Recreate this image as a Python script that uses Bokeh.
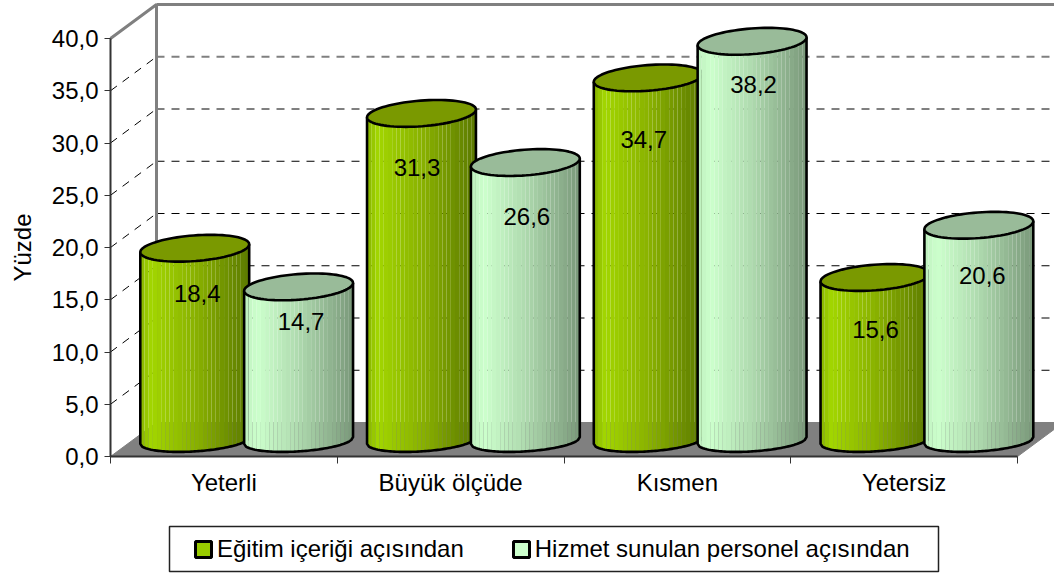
import math
from bokeh.embed import file_html
from bokeh.resources import INLINE
from bokeh.plotting import figure
from bokeh.models import (FixedTicker, Legend, LegendItem, BoxAnnotation, Label, ColumnDataSource)
from bokeh.core.properties import value

categories = ["Yeterli", "Büyük ölçüde", "Kısmen", "Yetersiz"]
egitim = [18.4, 31.3, 34.7, 15.6]
hizmet = [14.7, 26.6, 38.2, 20.6]
egitim_labels = ["18,4", "31,3", "34,7", "15,6"]
hizmet_labels = ["14,7", "26,6", "38,2", "20,6"]
y_ticks = [0, 5, 10, 15, 20, 25, 30, 35, 40]
y_tick_labels = ["0,0", "5,0", "10,0", "15,0", "20,0", "25,0", "30,0", "35,0", "40,0"]
series_names = ["Eğitim içeriği açısından", "Hizmet sunulan personel açısından"]

# layout (pixels of the picture)
W, H = 1054, 575
LEFT, BASE = 110, 456
PX_X, PX_Y = 226.75, 10.45
FS = "24px"
FONT = value("Liberation Sans")
DEPTH_X, DEPTH_Y = 46 / PX_X, 34 / PX_Y
BAR_LIFT = 16 / PX_Y
BAR_POS = [0.3715, 0.8295]
A, B, TILT = 54.6, 12.8, math.radians(4.4)
BASE_SQUASH = 0.85
HALF = math.sqrt((A * math.cos(TILT)) ** 2 + (B * math.sin(TILT)) ** 2)
PHI = math.atan2(B * math.sin(TILT), A * math.cos(TILT))
LABEL_DOWN = [[45, 54, 62, 52], [35, 54, 43, 50]]
LABEL_DX = [[2.5, -4.5, -4.5, 0.5], [2.5, 1.5, 1.5, 3.5]]

STOPS = [
    [(0.0, (136, 180, 0)), (0.1, (162, 214, 0)), (0.5, (138, 178, 0)), (1.0, (92, 122, 0))],
    [(0.0, (190, 240, 190)), (0.12, (204, 255, 204)), (0.5, (174, 218, 174)), (1.0, (122, 152, 122))],
]
TOP_COLOR = ["#7a9900", "#99bb99"]
LEG_COLOR = ["#99cc00", "#ccffcc"]


def shade(stops, t):
    for (t0, c0), (t1, c1) in zip(stops, stops[1:]):
        if t <= t1:
            k = (t - t0) / (t1 - t0)
            return "#%02x%02x%02x" % tuple(int(round(a + (b - a) * k)) for a, b in zip(c0, c1))
    return "#%02x%02x%02x" % stops[-1][1]


def ell(t):
    return (A * math.cos(t) * math.cos(TILT) - B * math.sin(t) * math.sin(TILT),
            A * math.cos(t) * math.sin(TILT) + B * math.sin(t) * math.cos(TILT))


def lower_y(dx):
    u = math.acos(max(-1, min(1, dx / HALF)))
    return ell(2 * math.pi - u - PHI)[1]


p = figure(width=W, height=H, output_backend="svg", toolbar_location=None,
           x_range=(-LEFT / PX_X, (W - LEFT) / PX_X), y_range=(-(H - BASE) / PX_Y, BASE / PX_Y),
           min_border=0)
p.outline_line_color = None
p.grid.visible = False
p.background_fill_color = "white"

# axes
n = len(categories)
ax = p.xaxis[0]
ax.fixed_location = 0
ax.ticker = FixedTicker(ticks=[i + 0.5 for i in range(n)], minor_ticks=list(range(n + 1)))
ax.major_label_overrides = {i + 0.5: c for i, c in enumerate(categories)}
ax.major_tick_line_color = None
ax.major_tick_out = 0
ax.major_tick_in = 0
ax.minor_tick_out = 7
ax.minor_tick_in = 0
ax.minor_tick_line_color = "#333333"
ax.axis_line_color = "#333333"
ax.axis_line_width = 2
ax.bounds = (0, n)
ax.major_label_text_font = "Liberation Sans"
ax.major_label_text_font_size = FS
ax.major_label_text_color = "black"
ax.major_label_standoff = 5

ay = p.yaxis[0]
ay.fixed_location = 0
ay.ticker = FixedTicker(ticks=y_ticks)
ay.major_label_overrides = dict(zip(y_ticks, y_tick_labels))
ay.bounds = (0, 40)
ay.major_tick_out = 6
ay.major_tick_in = 0
ay.minor_tick_line_color = None
ay.axis_line_color = "#333333"
ay.axis_line_width = 2
ay.major_tick_line_color = "#333333"
ay.major_label_text_font = "Liberation Sans"
ay.major_label_text_font_size = FS
ay.major_label_text_color = "black"
ay.major_label_standoff = 6

# walls and floor
top = y_ticks[-1]
p.patch([0, n, n + DEPTH_X, DEPTH_X], [0, 0, DEPTH_Y, DEPTH_Y], fill_color="#808080", line_color="#808080")
inner = y_ticks[1:-1]
p.multi_line([[0, DEPTH_X] for _ in inner], [[v, v + DEPTH_Y] for v in inner],
             line_color="black", line_width=1, line_dash="8 7")
p.multi_line([[DEPTH_X, n + DEPTH_X] for v in inner[:-1]], [[v + DEPTH_Y] * 2 for v in inner[:-1]],
             line_color="black", line_width=1, line_dash="8 7")
p.line([DEPTH_X, n + DEPTH_X], [inner[-1] + DEPTH_Y] * 2, line_color="#808080", line_width=2, line_dash="8 7")
p.line([0, DEPTH_X, DEPTH_X], [top, top + DEPTH_Y, DEPTH_Y], line_color="#808080", line_width=3)
p.line([DEPTH_X, n + DEPTH_X], [top + DEPTH_Y] * 2, line_color="#808080", line_width=3)

# cylinders
N = 26
for g in range(n):
    for s, vals in enumerate([egitim, hizmet]):
        v = vals[g]
        cx = g + BAR_POS[s]
        y0, y1 = BAR_LIFT, v + BAR_LIFT
        xs, ys, cols = [], [], []
        for i in range(N):
            a = -HALF + 2 * HALF * i / N
            b = -HALF + 2 * HALF * (i + 1) / N
            xs.append([cx + a / PX_X, cx + b / PX_X, cx + b / PX_X, cx + a / PX_X])
            ys.append([y0 + BASE_SQUASH * lower_y(a) / PX_Y, y0 + BASE_SQUASH * lower_y(b) / PX_Y,
                       y1 + lower_y(b) / PX_Y, y1 + lower_y(a) / PX_Y])
            cols.append(shade(STOPS[s], (i + 0.5) / N))
        p.patches(xs, ys, fill_color=cols, line_color=None)
        dxs = [-HALF + 2 * HALF * i / 60 for i in range(61)]
        ox = [cx + d / PX_X for d in dxs]
        oy = [y0 + BASE_SQUASH * lower_y(d) / PX_Y for d in dxs]
        p.line([ox[0]] + ox + [ox[-1]], [y1 + lower_y(-HALF) / PX_Y] + oy + [y1 + lower_y(HALF) / PX_Y],
               line_color="black", line_width=2.6, line_join="round")
        ts = [2 * math.pi * i / 80 for i in range(80)]
        p.patch([cx + ell(t)[0] / PX_X for t in ts], [y1 + ell(t)[1] / PX_Y for t in ts],
                fill_color=TOP_COLOR[s], line_color="black", line_width=2.6)

# value labels
for s, (vals, labs) in enumerate([(egitim, egitim_labels), (hizmet, hizmet_labels)]):
    src = ColumnDataSource(dict(
        x=[g + BAR_POS[s] + LABEL_DX[s][g] / PX_X for g in range(n)],
        y=[v + BAR_LIFT for v in vals],
        t=labs,
        off=LABEL_DOWN[s],
    ))
    p.text(x="x", y="y", text="t", y_offset="off", source=src, text_align="center", text_baseline="middle",
           text_font=FONT, text_font_size=value(FS), text_color="black")

# axis title
p.add_layout(Label(x=22, y=H - 247, x_units="screen", y_units="screen", text="Yüzde", angle=90,
                   angle_units="deg", text_align="center", text_baseline="middle",
                   text_font="Liberation Sans", text_font_size=FS, text_color="black"))

# legend
p.add_layout(BoxAnnotation(left=169, right=938, top=526, bottom=571,
                           left_units="canvas", right_units="canvas", top_units="canvas", bottom_units="canvas",
                           fill_color="white", fill_alpha=1, line_color="#222222", line_alpha=1, line_width=1.5))
items = []
for s, name in enumerate(series_names):
    r = p.quad(left=[-99], right=[-99], top=[-99], bottom=[-99], fill_color=LEG_COLOR[s],
               line_color="black", line_width=3)
    items.append(LegendItem(label=name, renderers=[r]))
leg = Legend(items=items, orientation="horizontal", location=(193, 12), padding=0, margin=0,
             border_line_color=None, background_fill_alpha=0, glyph_width=20, glyph_height=20,
             label_standoff=4, spacing=47, label_text_font="Liberation Sans", label_text_font_size=FS,
             label_text_color="black", label_height=20)
p.add_layout(leg, "center")

open("out.html", "w").write(file_html(p, INLINE))
